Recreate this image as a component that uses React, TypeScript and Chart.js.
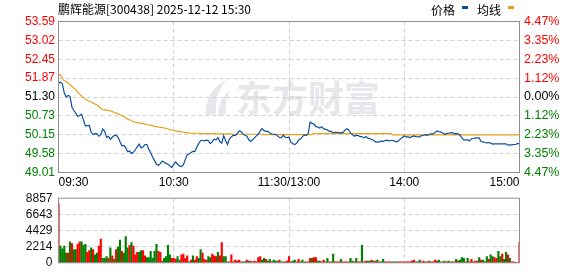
import React, { useEffect, useRef } from "react";
import { Chart, registerables } from "chart.js";
Chart.register(...registerables);

const TITLE = "鹏辉能源[300438] 2025-12-12 15:30";
const LEGEND_PRICE = "价格";
const LEGEND_AVG = "均线";
const WATERMARK = "东方财富";
const PRICE_TICKS = ["49.01", "49.58", "50.15", "50.73", "51.30", "51.87", "52.45", "53.02", "53.59"];
const PCT_TICKS = ["4.47%", "3.35%", "2.23%", "1.12%", "0.00%", "1.12%", "2.23%", "3.35%", "4.47%"];
const VOL_TICKS = ["0", "2214", "4429", "6643", "8857"];
const TIME_POS = [0, 60, 120, 180, 240];
const TIME_LABELS = ["09:30", "10:30", "11:30/13:00", "14:00", "15:00"];
const PRICE_MIN = 49.01;
const PRICE_MAX = 53.59;
const VOL_MAX = 8857;

const price = [
  51.72, 51.75, 51.70, 51.42, 51.30, 51.35, 51.32, 50.99, 50.89, 50.81,
  50.71, 50.74, 50.78, 50.60, 50.42, 50.43, 50.44, 50.23, 50.16, 50.19,
  50.19, 50.11, 50.16, 50.33, 50.26, 50.08, 50.10, 50.02, 50.08, 50.13,
  50.14, 50.08, 49.94, 49.82, 49.83, 49.76, 49.64, 49.66, 49.59, 49.62,
  49.70, 49.79, 49.87, 49.76, 49.78, 49.86, 49.86, 49.71, 49.61, 49.48,
  49.37, 49.26, 49.23, 49.28, 49.36, 49.32, 49.28, 49.26, 49.21, 49.16,
  49.26, 49.33, 49.26, 49.21, 49.19, 49.24, 49.40, 49.54, 49.57, 49.62,
  49.65, 49.65, 49.78, 49.89, 49.98, 49.98, 49.97, 49.99, 49.98, 49.89,
  49.94, 50.02, 50.00, 50.07, 49.95, 49.90, 50.13, 49.97, 49.86, 50.03,
  50.09, 50.14, 50.13, 50.19, 50.27, 50.25, 50.18, 50.14, 50.12, 50.01,
  49.95, 50.00, 50.06, 50.12, 50.17, 50.27, 50.34, 50.28, 50.26, 50.26,
  50.21, 50.17, 50.17, 50.17, 50.12, 50.07, 50.06, 50.14, 50.08, 50.07,
  50.08,
  49.93, 49.88, 49.86, 49.90, 50.00, 50.03, 50.10, 50.15, 50.13, 50.20,
  50.54, 50.50, 50.48, 50.40, 50.39, 50.36, 50.40, 50.34, 50.32, 50.30,
  50.26, 50.26, 50.21, 50.23, 50.23, 50.21, 50.22, 50.22, 50.29, 50.34,
  50.31, 50.21, 50.16, 50.11, 50.14, 50.13, 50.10, 50.10, 50.06, 50.10,
  50.05, 50.04, 50.01, 49.99, 49.94, 49.93, 49.94, 49.97, 49.95, 49.98,
  49.99, 49.97, 49.98, 49.98, 49.96, 49.94, 49.97, 50.03, 50.07, 50.12,
  50.09, 50.09, 50.07, 50.10, 50.12, 50.10, 50.09, 50.09, 50.13, 50.14,
  50.16, 50.14, 50.17, 50.18, 50.18, 50.22, 50.27, 50.25, 50.24, 50.21,
  50.17, 50.19, 50.20, 50.21, 50.22, 50.18, 50.19, 50.18, 50.15, 50.06,
  50.00, 50.00, 50.00, 49.97, 50.03, 50.04, 50.06, 50.06, 50.06, 49.95,
  49.94, 49.92, 49.91, 49.92, 49.90, 49.87, 49.88, 49.88, 49.88, 49.88,
  49.88, 49.88, 49.88, 49.84, 49.85, 49.85, 49.86, 49.86, 49.89, 49.88,
];

const avgPrice = [
  51.97, 51.97, 51.86, 51.79, 51.76, 51.73, 51.67, 51.62, 51.57, 51.52,
  51.45, 51.38, 51.33, 51.28, 51.23, 51.20, 51.17, 51.15, 51.12, 51.09,
  51.06, 51.01, 50.95, 50.92, 50.91, 50.90, 50.89, 50.88, 50.86, 50.83,
  50.81, 50.79, 50.76, 50.73, 50.70, 50.67, 50.63, 50.61, 50.58, 50.55,
  50.53, 50.52, 50.51, 50.50, 50.49, 50.48, 50.46, 50.45, 50.44, 50.43,
  50.41, 50.40, 50.39, 50.38, 50.37, 50.36, 50.35, 50.33, 50.31, 50.30,
  50.29, 50.27, 50.26, 50.25, 50.24, 50.23, 50.22, 50.21, 50.21, 50.20,
  50.20, 50.20, 50.20, 50.20, 50.19, 50.19, 50.19, 50.19, 50.19, 50.19,
  50.19, 50.19, 50.18, 50.18, 50.18, 50.18, 50.18, 50.18, 50.18, 50.18,
  50.18, 50.17, 50.17, 50.17, 50.17, 50.17, 50.17, 50.17, 50.17, 50.17,
  50.17, 50.17, 50.17, 50.17, 50.17, 50.17, 50.17, 50.16, 50.16, 50.16,
  50.16, 50.16, 50.16, 50.16, 50.16, 50.16, 50.16, 50.16, 50.16, 50.16,
  50.16,
  50.16, 50.16, 50.16, 50.16, 50.16, 50.16, 50.16, 50.16, 50.16, 50.16,
  50.16, 50.16, 50.19, 50.19, 50.19, 50.19, 50.19, 50.19, 50.19, 50.19,
  50.19, 50.19, 50.19, 50.19, 50.19, 50.19, 50.19, 50.19, 50.19, 50.19,
  50.19, 50.19, 50.19, 50.19, 50.19, 50.19, 50.19, 50.19, 50.19, 50.19,
  50.19, 50.19, 50.19, 50.19, 50.19, 50.19, 50.19, 50.19, 50.19, 50.19,
  50.19, 50.19, 50.19, 50.15, 50.15, 50.15, 50.15, 50.15, 50.15, 50.15,
  50.15, 50.15, 50.15, 50.15, 50.15, 50.15, 50.15, 50.15, 50.15, 50.15,
  50.15, 50.15, 50.15, 50.15, 50.15, 50.15, 50.15, 50.15, 50.15, 50.15,
  50.15, 50.15, 50.15, 50.15, 50.15, 50.15, 50.15, 50.15, 50.15, 50.15,
  50.15, 50.15, 50.15, 50.15, 50.15, 50.15, 50.15, 50.15, 50.15, 50.15,
  50.15, 50.15, 50.15, 50.15, 50.15, 50.15, 50.15, 50.15, 50.15, 50.15,
  50.15, 50.15, 50.15, 50.15, 50.15, 50.15, 50.15, 50.15, 50.15, 50.15,
];

const volume = [
  8136, 2285, 1924, 2285, 1323, 1323, 2886, 2645, 1804, 1804,
  2525, 2886, 2886, 2405, 2525, 1443, 1683, 2044, 1804, 1082,
  1323, 2285, 3246, 601, 601, 842, 601, 2044, 962, 481,
  1804, 2164, 3126, 1563, 1323, 3607, 2044, 2405, 2766, 2285,
  1082, 1443, 1443, 1683, 1683, 962, 721, 721, 1563, 601,
  1563, 2525, 1563, 1443, 240, 601, 842, 2405, 1082, 601,
  601, 481, 842, 361, 1082, 1202, 601, 962, 120, 361,
  962, 361, 842, 601, 1804, 1323, 481, 361, 842, 721,
  1202, 962, 842, 1443, 962, 2766, 842, 842, 120, 120,
  1082, 120, 361, 240, 361, 120, 120, 120, 361, 240,
  240, 120, 240, 120, 721, 842, 361, 601, 481, 240,
  481, 120, 361, 240, 240, 361, 120, 120, 120, 240,
  842,
  120, 240, 361, 120, 481, 120, 361, 120, 120, 120,
  601, 601, 721, 721, 240, 240, 120, 361, 120, 601,
  120, 120, 1202, 120, 120, 120, 481, 120, 120, 120,
  120, 601, 240, 120, 601, 120, 120, 2405, 120, 240,
  240, 240, 361, 240, 240, 361, 120, 120, 481, 120,
  120, 120, 120, 120, 120, 120, 120, 120, 120, 120,
  120, 120, 120, 240, 361, 120, 120, 361, 120, 240,
  120, 120, 240, 120, 120, 361, 240, 361, 120, 120,
  240, 120, 240, 120, 120, 120, 481, 240, 361, 721,
  601, 120, 601, 120, 481, 120, 240, 240, 721, 361,
  361, 120, 842, 481, 1082, 842, 721, 601, 1563, 842,
  1202, 481, 1443, 1082, 601, 120, 120, 60, 60, 2766,
];

// 1 = up (red), 0 = down (green)
const volumeUp = [
  1, 0, 0, 0, 0, 1, 0, 1, 0, 0,
  1, 1, 0, 0, 0, 1, 1, 0, 1, 0,
  0, 1, 1, 0, 0, 0, 1, 0, 1, 0,
  1, 0, 0, 1, 0, 0, 0, 1, 0, 1,
  1, 1, 0, 0, 1, 1, 0, 0, 0, 0,
  0, 0, 1, 1, 1, 0, 0, 0, 0, 1,
  1, 1, 0, 0, 1, 1, 1, 1, 0, 1,
  0, 1, 1, 0, 0, 1, 1, 1, 0, 0,
  1, 1, 1, 0, 1, 1, 0, 0, 1, 1,
  1, 1, 1, 1, 1, 1, 0, 0, 1, 0,
  1, 0, 1, 1, 1, 1, 0, 0, 1, 0,
  0, 1, 0, 0, 0, 1, 0, 0, 1, 1,
  1,
  0, 0, 0, 1, 1, 0, 0, 1, 0, 1,
  1, 0, 1, 1, 0, 0, 1, 1, 0, 0,
  1, 1, 0, 1, 1, 1, 0, 1, 1, 1,
  1, 0, 0, 1, 0, 1, 1, 0, 1, 1,
  0, 0, 1, 0, 1, 0, 1, 0, 0, 1,
  1, 1, 1, 0, 0, 0, 1, 1, 1, 1,
  1, 1, 1, 1, 1, 0, 1, 0, 1, 1,
  1, 0, 1, 0, 1, 1, 1, 0, 0, 1,
  0, 1, 0, 1, 0, 1, 0, 1, 0, 0,
  0, 1, 0, 1, 1, 0, 1, 1, 0, 1,
  0, 0, 0, 1, 0, 0, 1, 1, 0, 0,
  1, 0, 0, 1, 0, 1, 1, 1, 1, 1,
];

const RED = "#ff0000";
const GREEN = "#008000";
const DARK = "#000000";
const TICK_FONT = { family: '"Liberation Sans", Arial, sans-serif', size: 12 };
const CJK = '"Noto Sans CJK SC", "Liberation Sans", sans-serif';

const priceTickValues = PRICE_TICKS.map((_, i) => PRICE_MIN + (i * (PRICE_MAX - PRICE_MIN)) / (PRICE_TICKS.length - 1));
const volTickValues = VOL_TICKS.map((_, i) => (i * VOL_MAX) / (VOL_TICKS.length - 1));

function gridPlugin(yValues: number[], yScaleId: string, withWatermark: boolean, withTitle: boolean) {
  return {
    id: "customGrid" + yScaleId + (withTitle ? "t" : ""),
    beforeDatasetsDraw(chart: any) {
      const { ctx, chartArea } = chart;
      const xs = chart.scales.x;
      const ys = chart.scales[yScaleId];
      ctx.save();
      if (withWatermark) {
        ctx.fillStyle = "#e6e6eb";
        ctx.font = `bold 36px ${CJK}`;
        ctx.textBaseline = "middle";
        ctx.textAlign = "left";
        ctx.fillText(WATERMARK, 236, 98);
        ctx.beginPath();
        ctx.moveTo(206, 116);
        ctx.quadraticCurveTo(204, 92, 226, 80);
        ctx.quadraticCurveTo(214, 96, 216, 114);
        ctx.closePath();
        ctx.fill();
        ctx.beginPath();
        ctx.moveTo(218, 116);
        ctx.quadraticCurveTo(218, 100, 230, 90);
        ctx.quadraticCurveTo(224, 102, 226, 114);
        ctx.closePath();
        ctx.fill();
      }
      ctx.strokeStyle = "#d2d2d2";
      ctx.lineWidth = 1;
      ctx.setLineDash([4, 3]);
      for (let i = 1; i < yValues.length - 1; i++) {
        const y = Math.floor(ys.getPixelForValue(yValues[i])) + 0.5;
        ctx.beginPath();
        ctx.moveTo(chartArea.left, y);
        ctx.lineTo(chartArea.right, y);
        ctx.stroke();
      }
      for (let i = 1; i < TIME_POS.length - 1; i++) {
        const x = Math.floor(xs.getPixelForValue(TIME_POS[i])) + 0.5;
        ctx.beginPath();
        ctx.moveTo(x, chartArea.top);
        ctx.lineTo(x, chartArea.bottom);
        ctx.stroke();
      }
      ctx.restore();
    },
    afterDraw(chart: any) {
      const { ctx, chartArea } = chart;
      ctx.save();
      ctx.strokeStyle = "#909090";
      ctx.lineWidth = 1;
      ctx.setLineDash([]);
      ctx.strokeRect(chartArea.left, chartArea.top, chartArea.right - chartArea.left, chartArea.bottom - chartArea.top);
      if (withTitle) {
        ctx.fillStyle = "#000";
        ctx.font = `12px ${CJK}`;
        ctx.textBaseline = "middle";
        ctx.textAlign = "left";
        ctx.fillText(TITLE, 58, 9);
        ctx.fillText(LEGEND_PRICE, 431, 10);
        ctx.fillText(LEGEND_AVG, 477, 10);
        ctx.fillStyle = "#0b4f9e";
        ctx.fillRect(462, 6, 6, 3);
        ctx.fillStyle = "#e3a21a";
        ctx.fillRect(508, 6, 6, 3);
      }
      ctx.restore();
    },
  };
}

function priceColor(ctx: any) {
  const i = ctx.index;
  return i < 4 ? GREEN : i === 4 ? DARK : RED;
}

export default function App() {
  const r1 = useRef<HTMLCanvasElement>(null);
  const r2 = useRef<HTMLCanvasElement>(null);

  useEffect(() => {
    const c1 = new Chart(r1.current as HTMLCanvasElement, {
      type: "line",
      data: {
        datasets: [
          {
            data: price.map((y, i) => ({ x: i, y })),
            borderColor: "#0b4f9e",
            borderWidth: 1.2,
            pointRadius: 0,
            tension: 0,
          },
          {
            data: avgPrice.map((y, i) => ({ x: i, y })),
            borderColor: "#e3a21a",
            borderWidth: 1.2,
            pointRadius: 0,
            tension: 0,
          },
        ],
      },
      options: {
        responsive: false,
        animation: false,
        events: [],
        layout: { padding: { top: 21.5, bottom: 0, left: 0, right: 0 } },
        plugins: { legend: { display: false }, tooltip: { enabled: false } },
        scales: {
          x: {
            type: "linear",
            min: 0,
            max: 240,
            grid: { display: false, drawTicks: false },
            border: { display: false },
            afterBuildTicks: (s: any) => {
              s.ticks = TIME_POS.map((v) => ({ value: v }));
            },
            afterFit: (s: any) => {
              s.height = 19.5;
            },
            ticks: {
              autoSkip: false,
              maxRotation: 0,
              align: "inner",
              padding: 3,
              color: DARK,
              font: TICK_FONT,
              callback: (v: any) => TIME_LABELS[TIME_POS.indexOf(Number(v))],
            },
          },
          y: {
            position: "left",
            min: PRICE_MIN,
            max: PRICE_MAX,
            grid: { display: false, drawTicks: false },
            border: { display: false },
            afterBuildTicks: (s: any) => {
              s.ticks = priceTickValues.map((v) => ({ value: v }));
            },
            afterFit: (s: any) => {
              s.width = 58.5;
            },
            ticks: {
              padding: 3.5,
              font: TICK_FONT,
              color: priceColor,
              callback: (_v: any, i: number) => PRICE_TICKS[i],
            },
          },
          y2: {
            position: "right",
            min: PRICE_MIN,
            max: PRICE_MAX,
            grid: { display: false, drawTicks: false },
            border: { display: false },
            afterBuildTicks: (s: any) => {
              s.ticks = priceTickValues.map((v) => ({ value: v }));
            },
            afterFit: (s: any) => {
              s.width = 58.5;
            },
            ticks: {
              padding: 4.5,
              font: { family: '"Liberation Sans", Arial, sans-serif', size: 12.5 },
              color: priceColor,
              callback: (_v: any, i: number) => PCT_TICKS[i],
            },
          },
        },
      } as any,
      plugins: [gridPlugin(priceTickValues, "y", true, true)],
    });

    const c2 = new Chart(r2.current as HTMLCanvasElement, {
      type: "bar",
      data: {
        datasets: [
          {
            data: volume.map((y, i) => ({ x: i, y })),
            backgroundColor: volumeUp.map((u) => (u ? RED : GREEN)),
            borderWidth: 0,
            barThickness: 1.5,
          },
        ],
      },
      options: {
        responsive: false,
        animation: false,
        events: [],
        layout: { padding: { top: 11.5, bottom: 5.5, left: 0, right: 58.5 } },
        plugins: { legend: { display: false }, tooltip: { enabled: false } },
        scales: {
          x: {
            type: "linear",
            min: 0,
            max: 240,
            offset: false,
            display: false,
          },
          y: {
            position: "left",
            min: 0,
            max: VOL_MAX,
            grid: { display: false, drawTicks: false },
            border: { display: false },
            afterBuildTicks: (s: any) => {
              s.ticks = volTickValues.map((v) => ({ value: v }));
            },
            afterFit: (s: any) => {
              s.width = 58.5;
            },
            ticks: {
              padding: 6,
              font: TICK_FONT,
              color: "#111111",
              callback: (_v: any, i: number) => VOL_TICKS[i],
            },
          },
        },
      } as any,
      plugins: [gridPlugin(volTickValues, "y", false, false)],
    });

    return () => {
      c1.destroy();
      c2.destroy();
    };
  }, []);

  return (
    <div style={{ position: "absolute", left: 0, top: 0, width: 578, height: 276, background: "#fff" }}>
      <canvas ref={r1} width={578} height={192} style={{ position: "absolute", left: 0, top: 0, width: 578, height: 192 }} />
      <canvas ref={r2} width={578} height={91} style={{ position: "absolute", left: 0, top: 185, width: 578, height: 91 }} />
    </div>
  );
}
